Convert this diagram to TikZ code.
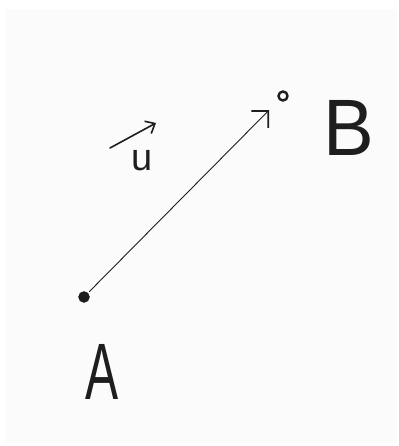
\documentclass[tikz,border=0pt]{standalone}
\usepackage{fontspec}
\setmainfont{Liberation Sans}
\usetikzlibrary{arrows.meta}
\definecolor{paper}{RGB}{251,251,251}
\definecolor{ink}{RGB}{30,30,30}
\begin{document}
\begin{tikzpicture}[x=1pt,y=-1pt,
  ptdot/.style={circle, fill=ink, draw=ink, inner sep=0pt},
  letter/.style={inner sep=0pt, text=ink, font=\fontsize{80}{80}\selectfont},
  vecarrow/.style={draw=ink, line width=1.6pt, line cap=round, -{Straight Barb[length=8pt,width=14pt,line width=1.6pt]}},
  segarrow/.style={draw=ink, line width=0.9pt, line cap=round, -{Straight Barb[length=12pt,width=24pt,line width=1.8pt]}}]
\useasboundingbox (0,0) rectangle (398,446);
\fill[white] (0,0) rectangle (398,446);
\fill[paper] (5,9) rectangle (397,443);
\node[ptdot, minimum size=11pt] (A) at (84,297) {};
\node[ptdot, minimum size=9pt, fill=paper, line width=2.4pt] (B) at (283,96) {};
\draw[segarrow, shorten <=2pt, shorten >=14pt] (A) -- (B);
\node[letter, xscale=0.62] (labA) at (102,372) {A};
\node[letter, xscale=0.95] (labB) at (349,128) {B};
\node[letter, font=\fontsize{38}{38}\selectfont] (labu) at (142,161) {u};
\coordinate (ustart) at ([shift={(-32,-13)}]labu.center);
\coordinate (uend) at ([shift={(14,-38)}]labu.center);
\draw[vecarrow] (ustart) -- (uend);
\end{tikzpicture}
\end{document}
